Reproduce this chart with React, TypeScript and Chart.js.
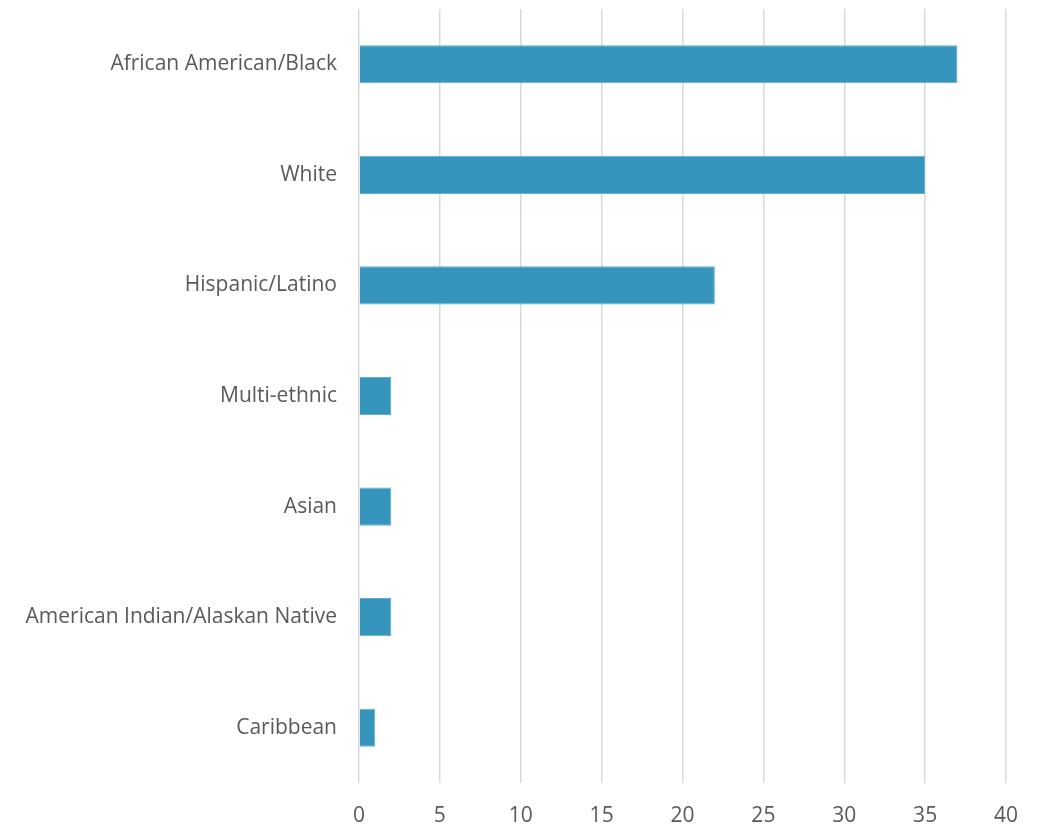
import React, { useEffect, useRef } from "react";
import { Chart, registerables } from "chart.js";

Chart.register(...registerables);

const categories = [
  "African American/Black",
  "White",
  "Hispanic/Latino",
  "Multi-ethnic",
  "Asian",
  "American Indian/Alaskan Native",
  "Caribbean",
];
const counts = [37, 35, 22, 2, 2, 2, 1];
const xTicks = [0, 5, 10, 15, 20, 25, 30, 35, 40];

const W = 1043;
const H = 826;
const FONT = "'Open Sans', sans-serif";

export default function App() {
  const ref = useRef<HTMLCanvasElement | null>(null);

  useEffect(() => {
    document.body.style.margin = "0";
    const canvas = ref.current;
    if (!canvas) return;
    const chart = new Chart(canvas, {
      type: "bar",
      data: {
        labels: categories,
        datasets: [
          {
            data: counts,
            backgroundColor: "#3595bc",
            borderColor: "#62acd0",
            borderWidth: 1,
            barPercentage: 0.345,
            categoryPercentage: 1,
          },
        ],
      },
      options: {
        indexAxis: "y",
        responsive: false,
        animation: false,
        layout: { padding: { top: 9, right: 37, left: 0, bottom: 0 } },
        plugins: { legend: { display: false }, tooltip: { enabled: false } },
        scales: {
          x: {
            min: xTicks[0],
            max: xTicks[xTicks.length - 1],
            afterBuildTicks: (axis: any) => {
              axis.ticks = xTicks.map((v) => ({ value: v }));
            },
            afterFit: (axis: any) => {
              axis.height = 43;
              axis.paddingLeft = 0;
              axis.paddingRight = 0;
            },
            grid: { color: "#d9d9d9", lineWidth: 1.5, drawTicks: false },
            border: { display: false },
            ticks: {
              color: "#595959",
              font: { family: FONT, size: 21 },
              padding: 20,
            },
          },
          y: {
            afterFit: (axis: any) => {
              axis.width = 359;
              axis.paddingTop = 0;
              axis.paddingBottom = 0;
            },
            grid: { display: false, drawTicks: false },
            border: { display: false },
            ticks: {
              color: "#595959",
              font: { family: FONT, size: 21 },
              padding: 22,
            },
          },
        },
      },
    });
    return () => chart.destroy();
  }, []);

  return (
    <div style={{ width: W, height: H }}>
      <canvas ref={ref} width={W} height={H} />
    </div>
  );
}
